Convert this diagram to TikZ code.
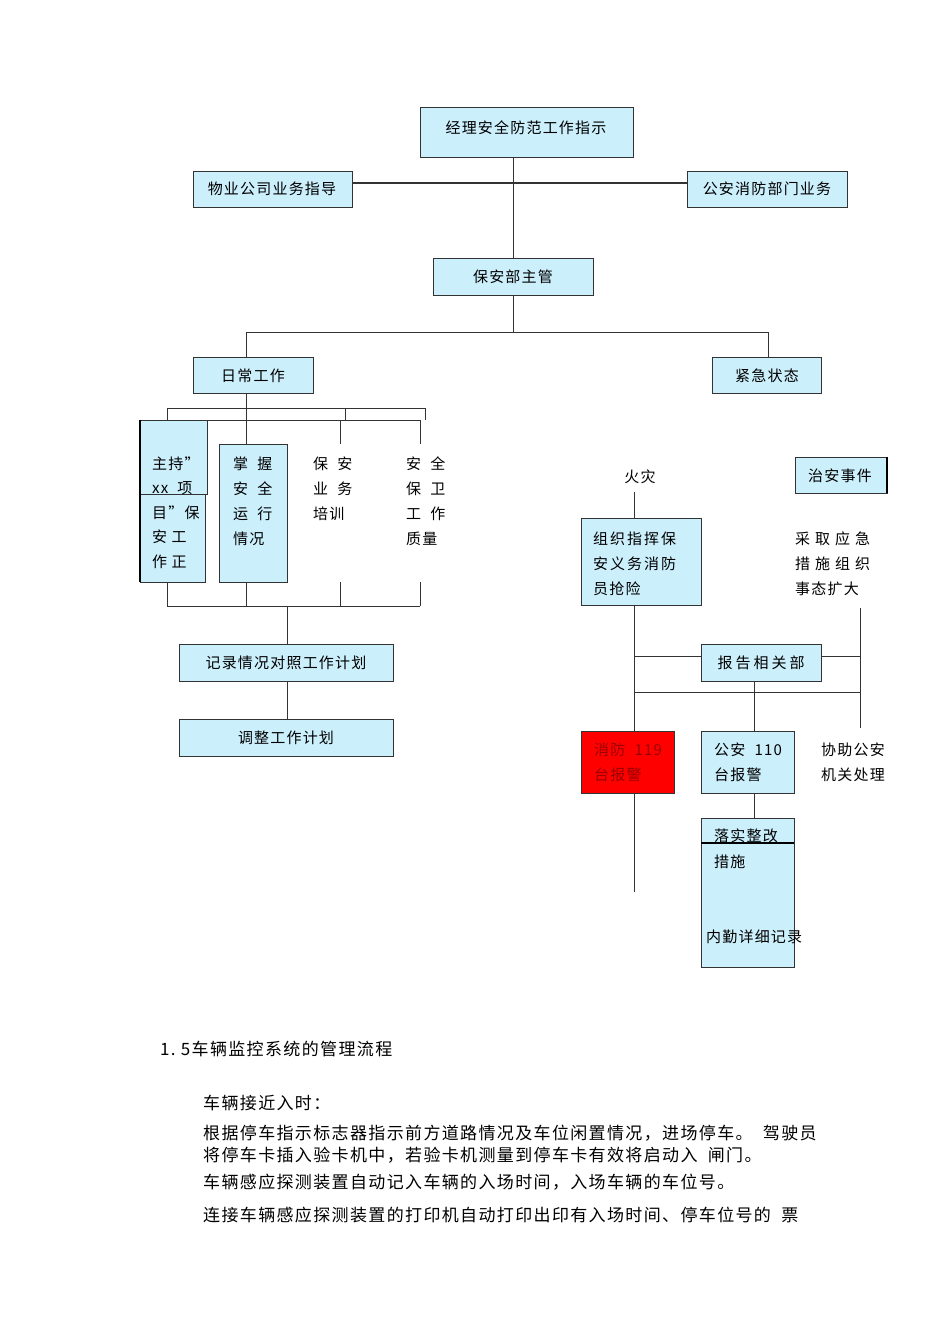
\documentclass[tikz,border=0pt]{standalone}
\usepackage{fontspec}
\setmainfont{Liberation Serif}
\newfontfamily\cjk{Noto Sans CJK SC}[LetterSpace=8]
\begin{document}
\begin{tikzpicture}[x=1pt,y=-1pt,
  bx/.style={draw=black!80,line width=1pt,fill=cyan!20},
  ln/.style={draw=black!80,line width=0.9pt},
  t/.style={font=\cjk\fontsize{15}{17}\selectfont,anchor=west,inner sep=0pt},
  c/.style={font=\cjk\fontsize{15}{17}\selectfont,inner sep=0pt},
  p/.style={font=\cjk\fontsize{17}{19}\selectfont,anchor=west,inner sep=0pt}]
\useasboundingbox (0,0) rectangle (950,1344);
% top
\draw[bx] (420,107) rectangle (633,157); \node[c] (a) at (526,128) {经理安全防范工作指示};
\draw[bx] (193,171) rectangle (352,207); \node[c] (b) at (272,189) {物业公司业务指导};
\draw[bx] (687,171) rectangle (847,207); \node[c] (d) at (767,189) {公安消防部门业务};
\draw[ln,line width=1.6pt] (352,183) -- (687,183);
\draw[ln] (513,157) -- (513,258);
\draw[bx] (433,258) rectangle (593,295); \node[c] (e) at (513,277) {保安部主管};
\draw[ln] (513,295) -- (513,332) (246,332) -- (768,332) (246,332) -- (246,357) (768,332) -- (768,357);
\draw[bx] (193,357) rectangle (313,393); \node[c] (f) at (253,376) {日常工作};
\draw[bx] (712,357) rectangle (821,393); \node[c] (g) at (767,376) {紧急状态};
% left branch
\draw[ln] (246,393) -- (246,444);
\draw[ln] (167,420) -- (167,408) -- (425,408) -- (425,420) (345,408) -- (345,420);
\draw[ln] (167,420) -- (420,420) (340,420) -- (340,444) (420,420) -- (420,444);
\draw[bx] (140,420) rectangle (207,494);
\draw[bx] (140,494) rectangle (205,582);
\draw[line width=1.6pt] (140,420) -- (140,582);
\draw[bx] (219,444) rectangle (287,582);
\foreach \s [count=\i] in {主持”,xx\ \ 项,目”保,安\ 工,作\ 正}
  \node[t] at (152,439+\i*24.5) {\s};
\foreach \s [count=\i] in {掌\ \ 握,安\ \ 全,运\ \ 行,情况}
  \node[t] at (233,439+\i*25) {\s};
\foreach \s [count=\i] in {保\ \ 安,业\ \ 务,培训}
  \node[t] at (313,439+\i*25) {\s};
\foreach \s [count=\i] in {安\ \ 全,保\ \ 卫,工\ \ 作,质量}
  \node[t] at (406,439+\i*25) {\s};
\draw[ln] (167,582) -- (167,606) (246,582) -- (246,606) (340,582) -- (340,606) (420,582) -- (420,606) (167,606) -- (420,606) (287,606) -- (287,644);
\draw[bx] (179,644) rectangle (393,681); \node[c] (h) at (286,663) {记录情况对照工作计划};
\draw[ln] (287,681) -- (287,719);
\draw[bx] (179,719) rectangle (393,756); \node[c] (i) at (286,738) {调整工作计划};
% right branch
\node[c] (j) at (640,477) {火灾};
\draw[ln] (634,492) -- (634,518);
\draw[bx] (581,518) rectangle (701,605);
\node[t] at (593,539) {组\hspace{2pt}织\hspace{2pt}指\hspace{2pt}挥\hspace{2pt}保};
\node[t] at (593,564) {安\hspace{2pt}义\hspace{2pt}务\hspace{2pt}消\hspace{2pt}防};
\node[t] at (593,589) {员抢险};
\draw[bx] (795,457) rectangle (887,493); \node[c] (k) at (840,476) {治安事件};
\draw[line width=1.6pt] (887,457) -- (887,493);
\node[t] at (795,539) {采\hspace{5pt}取\hspace{5pt}应\hspace{5pt}急};
\node[t] at (795,564) {措\hspace{5pt}施\hspace{5pt}组\hspace{5pt}织};
\node[t] at (795,589) {事态扩大};
\draw[ln] (634,605) -- (634,892);
\draw[ln] (634,656) -- (701,656) (821,656) -- (860,656) (860,608) -- (860,728) (634,692) -- (860,692) (754,681) -- (754,731);
\draw[bx] (701,644) rectangle (821,681); \node[c] (l) at (761,663) {报\hspace{3pt}告\hspace{3pt}相\hspace{3pt}关\hspace{3pt}部};
\draw[draw=black!80,line width=1pt,fill=red] (581,731) rectangle (674,793);
\node[t,text=red!60!black] at (594,750) {消防\ \ 119};
\node[t,text=red!60!black] at (594,775) {台报警};
\draw[bx] (701,731) rectangle (794,793);
\node[t] at (714,750) {公安\ \ 110};
\node[t] at (714,775) {台报警};
\node[t] at (821,750) {协助公安};
\node[t] at (821,775) {机关处理};
\draw[ln] (754,793) -- (754,818);
\draw[bx] (701,818) rectangle (794,967);
\draw[line width=1.4pt] (701,843) -- (794,843);
\node[t] at (714,836) {落实整改};
\node[t] at (714,862) {措施};
\node[t] at (706,937) {内勤详细记录};
% text
\node[p] at (160,1049) {1.\ 5车辆监控系统的管理流程};
\node[p] at (203,1103) {车辆接近入时：};
\node[p] at (203,1133) {根据停车指示标志器指示前方道路情况及车位闲置情况，进场停车。\ \ 驾驶员};
\node[p] at (203,1155) {将停车卡插入验卡机中，若验卡机测量到停车卡有效将启动入\ \ 闸门。};
\node[p] at (203,1182) {车辆感应探测装置自动记入车辆的入场时间，入场车辆的车位号。};
\node[p] at (203,1215) {连接车辆感应探测装置的打印机自动打印出印有入场时间、停车位号的\ \ 票};
\end{tikzpicture}
\end{document}
